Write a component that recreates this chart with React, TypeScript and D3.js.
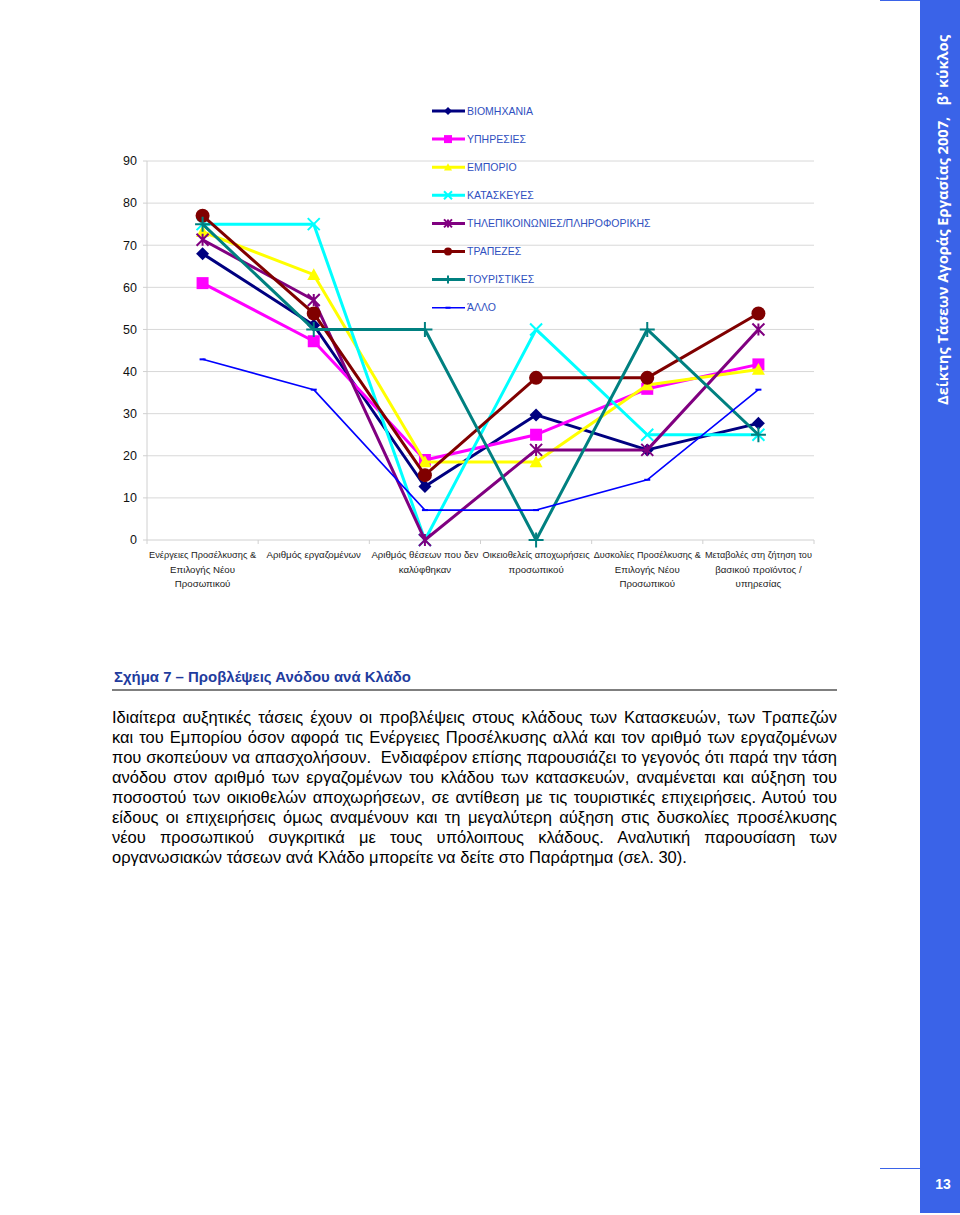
import React, { useEffect, useRef } from "react";
import * as d3 from "d3";

const categories = [
  "Ενέργειες Προσέλκυσης &\nΕπιλογής Νέου\nΠροσωπικού",
  "Αριθμός εργαζομένων",
  "Αριθμός θέσεων που δεν\nκαλύφθηκαν",
  "Οικειοθελείς αποχωρήσεις\nπροσωπικού",
  "Δυσκολίες Προσέλκυσης &\nΕπιλογής Νέου\nΠροσωπικού",
  "Μεταβολές στη ζήτηση του\nβασικού προϊόντος /\nυπηρεσίας",
];

const seriesNames = [
  "ΒΙΟΜΗΧΑΝΙΑ",
  "ΥΠΗΡΕΣΙΕΣ",
  "ΕΜΠΟΡΙΟ",
  "ΚΑΤΑΣΚΕΥΕΣ",
  "ΤΗΛΕΠΙΚΟΙΝΩΝΙΕΣ/ΠΛΗΡΟΦΟΡΙΚΗΣ",
  "ΤΡΑΠΕΖΕΣ",
  "ΤΟΥΡΙΣΤΙΚΕΣ",
  "ΆΛΛΟ",
];

const industry = [68, 51, 12.7, 29.7, 21.4, 27.7];
const services = [61, 47.2, 19, 25, 35.9, 41.7];
const commerce = [73.2, 63, 18.5, 18.5, 36.8, 40.5];
const construction = [75, 75, 0, 50, 25, 25];
const telecom = [71.3, 57, 0, 21.4, 21.4, 50];
const banks = [77, 53.8, 15.4, 38.5, 38.5, 53.8];
const tourism = [75, 50, 50, 0, 50, 25];
const other = [42.9, 35.7, 7.1, 7.1, 14.3, 35.7];

const yTicks = [0, 10, 20, 30, 40, 50, 60, 70, 80, 90];

const seriesValues = [industry, services, commerce, construction, telecom, banks, tourism, other];
const seriesColors = ["#000080", "#FF00FF", "#FFFF00", "#00FFFF", "#800080", "#800000", "#008080", "#0000FF"];
const seriesMarkers = ["diamond", "square", "triangle", "x", "asterisk", "circle", "plus", "dash"];

const captionText = "Σχήμα 7 – Προβλέψεις Ανόδου ανά Κλάδο";
const paragraphLines = [
  "Ιδιαίτερα αυξητικές τάσεις έχουν οι προβλέψεις στους κλάδους των Κατασκευών, των Τραπεζών",
  "και του Εμπορίου όσον αφορά τις Ενέργειες Προσέλκυσης αλλά και τον αριθμό των εργαζομένων",
  "που σκοπεύουν να απασχολήσουν.  Ενδιαφέρον επίσης παρουσιάζει το γεγονός ότι παρά την τάση",
  "ανόδου στον αριθμό των εργαζομένων του κλάδου των κατασκευών, αναμένεται και αύξηση του",
  "ποσοστού των οικιοθελών αποχωρήσεων, σε αντίθεση με τις τουριστικές επιχειρήσεις. Αυτού του",
  "είδους οι επιχειρήσεις όμως αναμένουν και τη μεγαλύτερη αύξηση στις δυσκολίες προσέλκυσης",
  "νέου προσωπικού συγκριτικά με τους υπόλοιπους κλάδους. Αναλυτική παρουσίαση των",
  "οργανωσιακών τάσεων ανά Κλάδο μπορείτε να δείτε στο Παράρτημα (σελ. 30).",
];
const sideTitle = "Δείκτης Τάσεων Αγοράς Εργασίας 2007,   β' κύκλος";
const pageNumber = "13";

const FONT = "Arial, 'Liberation Sans', sans-serif";

function markerPath(type: string, s: number): string {
  const h = s / 2;
  switch (type) {
    case "diamond":
      return `M0,${-h}L${h},0L0,${h}L${-h},0Z`;
    case "square":
      return `M${-h},${-h}H${h}V${h}H${-h}Z`;
    case "triangle":
      return `M0,${-h}L${h},${h * 0.8}L${-h},${h * 0.8}Z`;
    case "x":
      return `M${-h},${-h}L${h},${h}M${h},${-h}L${-h},${h}`;
    case "asterisk":
      return `M${-h},${-h}L${h},${h}M${h},${-h}L${-h},${h}M0,${-h}V${h}`;
    case "plus":
      return `M0,${-h}V${h}M${-h},0H${h}`;
    case "dash":
      return `M${-h},0H${h}`;
    default:
      return "";
  }
}

function Marker({ type, color, x, y, s }: { type: string; color: string; x: number; y: number; s: number }) {
  if (type === "circle") {
    return <circle cx={x} cy={y} r={s / 2} fill={color} />;
  }
  const stroked = type === "x" || type === "asterisk" || type === "plus" || type === "dash";
  return (
    <path
      d={markerPath(type, s)}
      transform={`translate(${x},${y})`}
      fill={stroked ? "none" : color}
      stroke={color}
      strokeWidth={stroked ? 2 : 0}
    />
  );
}

export default function App() {
  const rootRef = useRef<SVGSVGElement>(null);

  const left = 147;
  const right = 814;
  const top = 161;
  const bottom = 540;

  const x = d3.scalePoint<number>().domain(d3.range(categories.length)).range([left, right]).padding(0.5);
  const y = d3.scaleLinear().domain([0, 90]).range([bottom, top]);
  const step = x.step();

  const line = d3
    .line<number>()
    .x((_, i) => x(i) as number)
    .y((d) => y(d));

  useEffect(() => {
    if (!rootRef.current) return;
    const svg = d3.select(rootRef.current);
    const target = 837 - 112;
    svg.selectAll<SVGTextElement, unknown>("text.just").each(function () {
      const el = this as SVGTextElement;
      const txt = el.textContent || "";
      const spaces = (txt.match(/ /g) || []).length;
      const w = el.getComputedTextLength();
      if (spaces > 0) {
        const ws = (target - w) / spaces;
        el.style.wordSpacing = `${ws}px`;
      }
    });
    svg.selectAll<SVGTextElement, unknown>("text.xl").each(function () {
      const el = this as SVGTextElement;
      const w = el.getComputedTextLength();
      if (w > 107) {
        el.setAttribute("textLength", "107");
        el.setAttribute("lengthAdjust", "spacingAndGlyphs");
      }
    });
  }, []);

  const sizes = [13, 12, 13, 12, 12, 14, 15, 6];

  return (
    <svg ref={rootRef} width={960} height={1215} style={{ position: "absolute", left: 0, top: 0, background: "#fff" }}>
      <rect x={0} y={0} width={960} height={1215} fill="#fff" />
      {/* gridlines */}
      {yTicks.slice(1).map((t) => (
        <line key={t} x1={left} x2={right} y1={y(t)} y2={y(t)} stroke="#d8d8d8" strokeWidth={1} />
      ))}
      {/* axes */}
      <line x1={left} x2={left} y1={top} y2={bottom} stroke="#d0d0d0" strokeWidth={1} />
      <line x1={left} x2={right} y1={bottom} y2={bottom} stroke="#d0d0d0" strokeWidth={1} />
      {yTicks.map((t) => (
        <g key={t}>
          <line x1={left - 4} x2={left} y1={y(t)} y2={y(t)} stroke="#d0d0d0" />
          <text x={137} y={y(t)} dy="0.35em" textAnchor="end" fontFamily={FONT} fontSize={12.5} fill="#111">
            {t}
          </text>
        </g>
      ))}
      {d3.range(categories.length + 1).map((i) => {
        const xx = left + i * step;
        return <line key={i} x1={xx} x2={xx} y1={bottom} y2={bottom + 4} stroke="#d0d0d0" />;
      })}
      {categories.map((c, i) =>
        c.split("\n").map((l, j) => (
          <text
            key={`${i}-${j}`}
            className="xl"
            x={x(i)}
            y={555 + j * 14.5}
            dy="0.35em"
            textAnchor="middle"
            fontFamily={FONT}
            fontSize={9.7}
            fill="#222"
          >
            {l}
          </text>
        ))
      )}

      {/* series */}
      {seriesValues.map((vals, si) => (
        <g key={si}>
          <path
            d={line(vals) || ""}
            fill="none"
            stroke={seriesColors[si]}
            strokeWidth={si === 7 ? 1.6 : 3}
            strokeLinejoin="round"
          />
          {vals.map((v, i) => (
            <Marker key={i} type={seriesMarkers[si]} color={seriesColors[si]} x={x(i) as number} y={y(v)} s={sizes[si]} />
          ))}
        </g>
      ))}

      {/* legend */}
      {seriesNames.map((n, i) => {
        const ly = 111 + i * 28.1;
        return (
          <g key={n}>
            <line x1={432} x2={465} y1={ly} y2={ly} stroke={seriesColors[i]} strokeWidth={i === 7 ? 1.6 : 3} />
            <Marker type={seriesMarkers[i]} color={seriesColors[i]} x={448} y={ly} s={i === 7 ? 5 : 8} />
            <text x={467} y={ly} dy="0.35em" fontFamily={FONT} fontSize={10.5} fill="#3050c0">
              {n}
            </text>
          </g>
        );
      })}

      {/* caption */}
      <text x={114} y={682} fontFamily={FONT} fontSize={15.5} fontWeight="bold" fill="#1f3c9e" textLength={297} lengthAdjust="spacingAndGlyphs">
        {captionText}
      </text>
      <line x1={112} x2={837} y1={690} y2={690} stroke="#000" strokeWidth={1.2} />

      <g>
        {paragraphLines.map((l, i) => (
          <text
            key={i}
            className={i < paragraphLines.length - 1 ? "just" : ""}
            x={112}
            y={722.5 + i * 20}
            fontFamily={FONT}
            fontSize={16.5}
            fill="#000"
            style={{ whiteSpace: "pre" }}
          >
            {l}
          </text>
        ))}
      </g>

      {/* side bar */}
      <rect x={920} y={0} width={40} height={1213} fill="#3a63e8" />
      <line x1={880} x2={920} y1={1168.5} y2={1168.5} stroke="#3a63e8" strokeWidth={1.2} />
      <line x1={880} x2={920} y1={0.5} y2={0.5} stroke="#3a63e8" strokeWidth={1.2} />
      <text
        transform="translate(947.5,405) rotate(-90)"
        fontFamily="'Open Sans', 'DejaVu Sans', sans-serif"
        fontWeight="bold"
        fontSize={14.5}
        fill="#fff"
        textLength={370}
        lengthAdjust="spacingAndGlyphs"
        style={{ whiteSpace: "pre" }}
      >
        {sideTitle}
      </text>
      <text x={943} y={1184} dy="0.35em" textAnchor="middle" fontFamily={FONT} fontWeight="bold" fontSize={14} fill="#fff">
        {pageNumber}
      </text>
    </svg>
  );
}
